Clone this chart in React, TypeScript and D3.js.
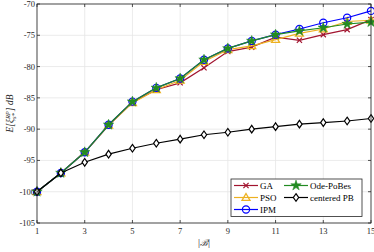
import { useMemo } from 'react';
import * as d3 from 'd3';

const W = 374;
const H = 252;
const M = { top: 4, right: 3, bottom: 29, left: 37 };

const xs = [1, 2, 3, 4, 5, 6, 7, 8, 9, 10, 11, 12, 13, 14, 15];
const ga = [-100, -97, -93.7, -89.4, -85.7, -83.7, -82.6, -80.2, -77.6, -76.9, -75.3, -75.8, -74.9, -74.1, -72.5];
const pso = [-100, -97, -93.7, -89.4, -85.8, -83.7, -82.2, -79.2, -77.3, -76.7, -75.7, -74.7, -74.0, -72.8, -72.6];
const ipm = [-100, -97, -93.7, -89.3, -85.6, -83.4, -81.9, -78.9, -77.1, -75.9, -74.9, -74.0, -73.0, -72.2, -71.1];
const ode = [-100, -97, -93.7, -89.3, -85.6, -83.4, -81.9, -78.9, -77.1, -75.9, -74.9, -74.3, -73.8, -73.2, -72.9];
const cpb = [-100, -97, -95.3, -94.0, -93.05, -92.25, -91.6, -90.9, -90.5, -90.0, -89.6, -89.2, -88.95, -88.7, -88.3];

const xTicks = [1, 3, 5, 7, 9, 11, 13, 15];
const yTicks = [-105, -100, -95, -90, -85, -80, -75, -70];

type Marker = 'x' | 'tri' | 'circle' | 'star' | 'diamond';
const series: { name: string; values: number[]; color: string; marker: Marker }[] = [
  { name: 'GA', values: ga, color: '#A2142F', marker: 'x' },
  { name: 'PSO', values: pso, color: '#EDB120', marker: 'tri' },
  { name: 'IPM', values: ipm, color: '#0000FF', marker: 'circle' },
  { name: 'Ode-PoBes', values: ode, color: '#228B22', marker: 'star' },
  { name: 'centered PB', values: cpb, color: '#000000', marker: 'diamond' },
];

const FONT = '"Liberation Serif", "DejaVu Serif", serif';

function MarkerShape({ type, x, y, color }: { type: Marker; x: number; y: number; color: string }) {
  if (type === 'x') {
    const s = 2.6;
    return (
      <path
        d={`M${x - s},${y - s}L${x + s},${y + s}M${x - s},${y + s}L${x + s},${y - s}`}
        stroke={color}
        strokeWidth={1.2}
      />
    );
  }
  if (type === 'tri') {
    const s = 4;
    return (
      <path
        d={`M${x},${y - s}L${x + s},${y + s * 0.7}L${x - s},${y + s * 0.7}Z`}
        fill="none"
        stroke={color}
        strokeWidth={1.3}
      />
    );
  }
  if (type === 'circle') {
    return <circle cx={x} cy={y} r={3.6} fill="none" stroke={color} strokeWidth={1.2} />;
  }
  if (type === 'star') {
    const p = d3.symbol(d3.symbolStar, 34)();
    return <path d={p || ''} transform={`translate(${x},${y})`} fill={color} stroke={color} strokeWidth={0.5} />;
  }
  const s = 3.8;
  return (
    <path
      d={`M${x},${y - s}L${x + s * 0.7},${y}L${x},${y + s}L${x - s * 0.7},${y}Z`}
      fill="#fff"
      stroke={color}
      strokeWidth={1.2}
    />
  );
}

export default function App() {
  const { x, y } = useMemo(() => {
    const x = d3.scaleLinear().domain([1, 15]).range([M.left, W - M.right]);
    const y = d3.scaleLinear().domain([-105, -70]).range([H - M.bottom, M.top]);
    return { x, y };
  }, []);

  const line = d3
    .line<number>()
    .x((_, i) => x(xs[i]))
    .y((v) => y(v));

  const x0 = M.left;
  const x1 = W - M.right;
  const y0 = H - M.bottom;
  const y1 = M.top;

  const legendX = 231;
  const legendY = 179;
  const legendRows = [
    [0, 0],
    [0, 1],
    [0, 2],
    [1, 0],
    [1, 1],
  ];

  return (
    <svg width={W} height={H} style={{ position: 'absolute', left: 0, top: 0 }} fontFamily={FONT}>
      <rect width={W} height={H} fill="#fff" />
      {xTicks.map((t) => (
        <line key={'gx' + t} x1={x(t)} x2={x(t)} y1={y0} y2={y1} stroke="#e6e6e6" strokeWidth={0.8} />
      ))}
      {yTicks.map((t) => (
        <line key={'gy' + t} x1={x0} x2={x1} y1={y(t)} y2={y(t)} stroke="#e6e6e6" strokeWidth={0.8} />
      ))}

      {series.map((s) => (
        <g key={s.name}>
          <path d={line(s.values) || ''} fill="none" stroke={s.color} strokeWidth={1.2} />
          {s.values.map((v, i) => (
            <MarkerShape key={i} type={s.marker} x={x(xs[i])} y={y(v)} color={s.color} />
          ))}
        </g>
      ))}

      <rect x={x0} y={y1} width={x1 - x0} height={y0 - y1} fill="none" stroke="#262626" strokeWidth={0.8} />
      {xTicks.map((t) => (
        <g key={'tx' + t}>
          <line x1={x(t)} x2={x(t)} y1={y0} y2={y0 - 3} stroke="#262626" strokeWidth={0.8} />
          <line x1={x(t)} x2={x(t)} y1={y1} y2={y1 + 3} stroke="#262626" strokeWidth={0.8} />
          <text x={x(t)} y={y0 + 10.5} textAnchor="middle" fontSize={8.5} fill="#262626">
            {t}
          </text>
        </g>
      ))}
      {yTicks.map((t) => (
        <g key={'ty' + t}>
          <line x1={x0} x2={x0 + 3} y1={y(t)} y2={y(t)} stroke="#262626" strokeWidth={0.8} />
          <line x1={x1} x2={x1 - 3} y1={y(t)} y2={y(t)} stroke="#262626" strokeWidth={0.8} />
          <text x={x0 - 2} y={y(t) + 3} textAnchor="end" fontSize={8.5} fill="#262626">
            {t}
          </text>
        </g>
      ))}

      <text x={204} y={246} textAnchor="middle" fontSize={10} fill="#262626">
        |<tspan fontStyle="italic" fontFamily='"DejaVu Serif", serif' fontSize={9}>ℬ</tspan>|
      </text>

      <text transform={`translate(13,${(y0 + y1) / 2}) rotate(-90)`} textAnchor="middle" fontSize={9.5} fill="#262626" fontStyle="italic">
        E[ξ
        <tspan fontSize={6.5} dy={3}>s*</tspan>
        <tspan fontSize={6.5} dx={-6} dy={-6.5}>RP</tspan>
        <tspan dy={3.5}>]</tspan>
        <tspan fontStyle="normal"> </tspan>dB
      </text>

      <rect x={legendX} y={legendY} width={131} height={37.5} fill="#fff" stroke="#262626" strokeWidth={0.8} />
      {series.map((s, i) => {
        const [col, row] = legendRows[i];
        const lx = legendX + 3 + col * 50;
        const ly = legendY + 6.5 + row * 12;
        return (
          <g key={'lg' + s.name}>
            <line x1={lx} x2={lx + 24} y1={ly} y2={ly} stroke={s.color} strokeWidth={1.2} />
            <MarkerShape type={s.marker} x={lx + 12} y={ly} color={s.color} />
            <text x={lx + 26} y={ly + 3} fontSize={9} fill="#000">
              {s.name}
            </text>
          </g>
        );
      })}
    </svg>
  );
}
